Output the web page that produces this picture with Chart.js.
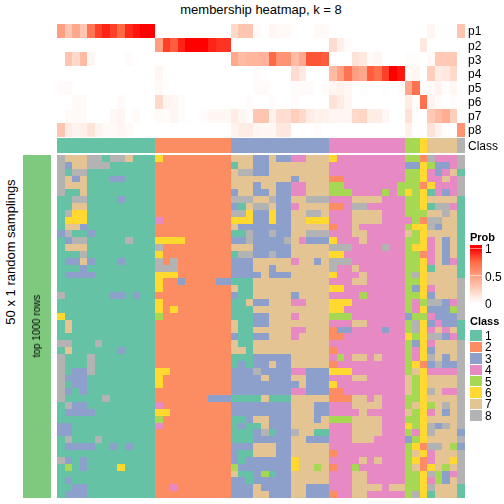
<!DOCTYPE html>
<html>
<head>
<meta charset="utf-8">
<title>membership heatmap</title>
<script src="https://cdn.jsdelivr.net/npm/chart.js@4/dist/chart.umd.min.js"></script>
<style>
    html, body { margin: 0; padding: 0; background: #fff; }
    body { width: 504px; height: 504px; position: relative; overflow: hidden; font-family: "Liberation Sans", sans-serif; color: #000; }
    canvas { position: absolute; display: block; }
    .txt { position: absolute; white-space: nowrap; line-height: 1; }
    .rot { transform: translate(-50%, -50%) rotate(-90deg); }
</style>
</head>
<body>
<canvas id="heatChart" style="left:57px;top:24px" width="447" height="113"></canvas>
<canvas id="classChart" style="left:57px;top:138px" width="447" height="15"></canvas>
<canvas id="mainChart" style="left:57px;top:155px" width="408" height="343"></canvas>
<canvas id="sideChart" style="left:23px;top:155px" width="28" height="343"></canvas>
<canvas id="probChart" style="left:470px;top:240px" width="34" height="70"></canvas>
<canvas id="legendChart" style="left:470px;top:330px" width="34" height="91"></canvas>

<div class="txt" style="left:261px;top:3px;font-size:13px;transform:translateX(-50%)">membership heatmap, k = 8</div>
<div class="txt rot" style="left:10px;top:252px;font-size:13px">50 x 1 random samplings</div>
<div class="txt rot" style="left:37px;top:326px;font-size:10px">top 1000 rows</div>
<div class="txt" style="left:470px;top:232px;font-size:11px;font-weight:bold">Prob</div>
<div class="txt" style="left:470px;top:316px;font-size:11px;font-weight:bold">Class</div>

<script>
/* ============================================================
   Data
   ============================================================ */
const probLabels = ['p1', 'p2', 'p3', 'p4', 'p5', 'p6', 'p7', 'p8'];
const classLabels = ['1', '2', '3', '4', '5', '6', '7', '8'];
const classColors = ['#66C2A5', '#FC8D62', '#8DA0CB', '#E78AC3', '#A6D854', '#FFD92F', '#E5C494', '#B3B3B3'];
const probTicks = [0, 0.5, 1];

// Membership probability (in %) per column, one array per row p1..p8
const p1 = [50,30,45,30,70,85,92,85,75,90,95,100,100, 0,0,0,0,0,0,0,0,0,0, 20,30,30,3,0,5,3,3,0,0,0,3,3, 0,0,0,0,0,0,0,0,0,0, 0,0,0,5,0,0,0,30];
const p2 = [0,0,0,0,0,0,0,0,0,0,0,0,0, 50,85,78,92,100,100,100,92,88,88, 0,0,0,0,0,0,0,0,0,0,0,0,0, 18,8,2,0,0,0,0,0,0,0, 0,0,12,0,0,0,0,0];
const p3 = [0,30,20,35,4,0,0,0,0,2,0,0,0, 0,0,0,0,0,0,0,0,0,0, 45,35,38,38,40,75,55,55,35,45,80,80,78, 0,0,0,15,12,3,5,0,0,0, 1,1,0,3,28,28,28,0];
const p4 = [0,0,0,0,0,0,0,0,0,0,0,0,0, 4,0,0,0,0,0,0,0,0,0, 0,0,0,2,0,0,0,0,18,12,0,0,0, 35,50,70,50,45,78,72,85,100,95, 2,5,0,25,10,12,20,0];
const p5 = [2,2,0,0,0,0,0,0,0,0,0,0,0, 3,0,0,0,0,0,0,0,0,0, 0,0,0,2,3,0,0,0,2,2,2,0,2, 5,7,4,0,1,0,0,1,0,2, 45,72,2,2,6,1,4,0];
const p6 = [0,0,3,3,0,0,0,0,3,0,0,0,0, 20,6,5,2,0,0,0,0,0,0, 0,0,2,0,0,2,0,0,2,0,0,0,0, 15,10,5,0,0,0,0,0,0,0, 10,2,72,6,2,0,2,0];
const p7 = [0,3,3,3,0,0,0,4,5,0,3,0,0, 3,2,5,2,0,0,2,4,4,4, 10,5,2,30,30,7,17,17,25,20,10,7,7, 5,5,5,20,22,10,10,4,0,0, 15,1,0,28,35,42,25,1];
const p8 = [30,10,6,8,14,6,3,3,5,3,0,0,0, 0,0,0,0,0,0,0,0,0,0, 6,10,10,5,4,4,12,12,0,0,0,2,0, 0,0,0,0,0,0,0,0,0,0, 8,0,0,15,6,2,0,55];

// Class of each column (top annotation)
const columnClass = '1111111111111' + '2222222222' + '3333333333333' + '4444444444' + '55' + '6' + '7777' + '8';

// One string per random sampling, one digit (class) per column
const samplings = [
    '8777881887111' + '6222222222' + '7773373344777' + '6444444444' + '55284448',
    '8377888111111' + '2222222222' + '1773377777777' + '4444444444' + '33653348',
    '8188111111111' + '2222222222' + '7883377777777' + '4444444444' + '55643471',
    '8737111331111' + '2222222222' + '7777777737777' + '2244444444' + '55644748',
    '8777111111111' + '2222222222' + '7773773344777' + '5544444445' + '55264448',
    '8117111111111' + '2222222222' + '3773373344777' + '5554444545' + '65614348',
    '1188111131111' + '2222222222' + '8887783377888' + '4447777444' + '55677771',
    '1177111111111' + '2222222222' + '3178873347777' + '2248844444' + '55618841',
    '1866111111111' + '2222222222' + '8863363377887' + '4447777444' + '55577871',
    '1666111111111' + '4222222222' + '6663363377666' + '4447777444' + '45288771',
    '1773111111111' + '2222222222' + '7333333377777' + '2447444444' + '56683771',
    '3811311111111' + '2222222222' + '1183383377888' + '4447744444' + '75677771',
    '1388111118111' + '6666222222' + '3383333874333' + '6444744444' + '55647371',
    '1777111111111' + '8222222222' + '7773333377777' + '8884444844' + '56647371',
    '1118111111111' + '6222222222' + '1883383377777' + '6644444444' + '55247371',
    '1337311131111' + '8282222222' + '3337777747737' + '8884444444' + '55647341',
    '1113111111111' + '8882222222' + '3337737777777' + '8447444444' + '55617771',
    '1333311111111' + '6662222222' + '3333733377777' + '6444744444' + '58677771',
    '1111111111111' + '6223222233' + '1117777777777' + '4447744444' + '55677778',
    '1111111111111' + '6222222222' + '7117777777777' + '6644444444' + '53647778',
    '8111111331311' + '2222222222' + '3117777737777' + '4444544444' + '55637778',
    '1111111111111' + '6222222222' + '1173377744777' + '6664444444' + '54588348',
    '1111111111111' + '6262222222' + '1117777777777' + '6644444444' + '54633358',
    '6111111111111' + '5222222222' + '1113377747777' + '5554444444' + '35543338',
    '1711111111111' + '2222222222' + '7113377777777' + '4447744444' + '58634331',
    '1711111111111' + '2222222222' + '7117777744777' + '2334444344' + '58647471',
    '1111111111111' + '2222222222' + '3113377747777' + '2244444444' + '65688341',
    '8811181111111' + '2222222222' + '7117777777777' + '4444444444' + '53647778',
    '1711111131111' + '2222222222' + '7717777777777' + '2444444444' + '54637778',
    '8111811111111' + '2222222222' + '1113333377777' + '4547747444' + '54687378',
    '8111811111111' + '2222222222' + '1313373377777' + '2444444444' + '56238338',
    '8133811111111' + '6622222222' + '3338333344333' + '6664444444' + '57644448',
    '8333111111111' + '6222222222' + '3333733377333' + '4447744444' + '75677778',
    '8133111111111' + '6222222222' + '3333333337333' + '6444444444' + '75677778',
    '8313111111111' + '2222222222' + '3333333344333' + '2244444444' + '75687448',
    '8111118111111' + '2222222333' + '1111711177777' + '2227747444' + '55677778',
    '1833111111111' + '4222222222' + '3333333377733' + '4447777444' + '57657878',
    '1333311111111' + '6622222222' + '3333333377733' + '4444744444' + '75647378',
    '1111111111111' + '5222222222' + '1137733377737' + '5557777444' + '55677778',
    '3311111111111' + '4222222222' + '1311733377777' + '4447777444' + '65683878',
    '3311111111111' + '2222222222' + '1113813387711' + '4447777444' + '54687773',
    '1811181111111' + '2222222222' + '1113333377333' + '4447774444' + '35677778',
    '1333311313111' + '2222222222' + '3337773377777' + '4444444444' + '56288753',
    '1111111111111' + '2222222222' + '3117773377777' + '2444444444' + '57647778',
    '8313111111111' + '2222222222' + '3133333367777' + '4444747444' + '56247768',
    '1513111161111' + '2222222222' + '5333333367757' + '2445444444' + '57267578',
    '1111111111111' + '2222222222' + '7113513377777' + '4447744444' + '55685348',
    '1311111111111' + '2222222222' + '3313333377777' + '4447744444' + '55645378',
    '1133111111111' + '2242222222' + '3337333377333' + '4447777477' + '55687771',
    '1333111111111' + '2222222222' + '3337733377333' + '2447744444' + '58617771'
];

/* ============================================================
   Helpers
   ============================================================ */
// white -> red ramp, same stops for the cells and the colour bar
const rampStops = [[0, '#FFFFFF'], [0.25, '#FFCFBC'], [0.5, '#FF9E81'], [0.75, '#FF6A45'], [1, '#FF0000']];

function hexToRgb(hex) {
    return [1, 3, 5].map(i => parseInt(hex.slice(i, i + 2), 16));
}

function probColor(p) {
    for (let i = 1; i < rampStops.length; i++) {
        if (p <= rampStops[i][0]) {
            const [p0, c0] = rampStops[i - 1];
            const [p1_, c1] = rampStops[i];
            const t = (p - p0) / (p1_ - p0);
            const a = hexToRgb(c0), b = hexToRgb(c1);
            return `rgb(${a.map((v, k) => Math.round(v + (b[k] - v) * t)).join(',')})`;
        }
    }
    return '#FF0000';
}

// small nudge: row edges can land exactly on .5 and neighbours must round alike
const snap = v => Math.round(v + 0.001);

// Snap the cells to whole pixels so neighbours do not blur into each other
Chart.register({
    id: 'snapCells',
    beforeDatasetsDraw(chart) {
        if (chart.options.indexAxis !== 'y') return;
        chart.getSortedVisibleDatasetMetas().forEach(meta => {
            meta.data.forEach(el => {
                const top = snap(el.y - el.height / 2);
                const bottom = snap(el.y + el.height / 2);
                el.x = snap(el.x);
                el.base = snap(el.base);
                el.y = (top + bottom) / 2;
                el.height = bottom - top;
            });
        });
    }
});

const tickFont = { family: '"Liberation Sans", sans-serif', size: 12 };

// category axes ask for half a label of room above and below, we don't want it
function noAxisPadding(s) {
    s.paddingTop = 0;
    s.paddingBottom = 0;
}

// Grid of cells as a horizontal stacked bar chart, one dataset per column
function drawGrid(id, rowLabels, nCols, colorAt, axisWidth, barPct = 1) {
    const datasets = [];
    for (let c = 0; c < nCols; c++) {
        datasets.push({
            data: rowLabels.map(() => 1),
            backgroundColor: rowLabels.map((_, r) => colorAt(r, c)),
            borderWidth: 0,
            inflateAmount: 0,
            barPercentage: barPct,
            categoryPercentage: 1
        });
    }
    return new Chart(document.getElementById(id), {
        type: 'bar',
        data: { labels: rowLabels, datasets },
        options: {
            indexAxis: 'y',
            responsive: false,
            animation: false,
            layout: { padding: 0 },
            plugins: { legend: { display: false }, tooltip: { enabled: false } },
            scales: {
                x: { stacked: true, min: 0, max: nCols, display: false },
                y: {
                    stacked: true,
                    position: 'right',
                    display: axisWidth > 0,
                    afterFit: s => { s.width = axisWidth; noAxisPadding(s); },
                    border: { display: false },
                    grid: { display: false, drawTicks: false },
                    ticks: { color: '#000', font: tickFont, padding: 3, labelOffset: 1, autoSkip: false }
                }
            }
        }
    });
}

/* ============================================================
   Heatmap blocks
   ============================================================ */
const probRows = [p1, p2, p3, p4, p5, p6, p7, p8];
const nCols = columnClass.length;

drawGrid('heatChart', probLabels, nCols, (r, c) => probColor(probRows[r][c] / 100), 39);
drawGrid('classChart', ['Class'], nCols, (r, c) => classColors[+columnClass[c] - 1], 39);
drawGrid('mainChart', samplings.map((_, i) => i + 1), nCols, (r, c) => classColors[+samplings[r][c] - 1], 0);
drawGrid('sideChart', ['top 1000 rows'], 1, () => '#7FC97F', 0);
drawGrid('legendChart', classLabels, 1, r => classColors[r], 22, 0.93);

/* ============================================================
   Colour bar: a single bar on a linear axis, filled with the ramp
   ============================================================ */
new Chart(document.getElementById('probChart'), {
    type: 'bar',
    data: {
        labels: ['Prob'],
        datasets: [{
            data: [1.055],
            backgroundColor: ctx => {
                const area = ctx.chart.chartArea;
                if (!area) return '#FF0000';
                const y = ctx.chart.scales.y;
                const g = ctx.chart.ctx.createLinearGradient(0, y.getPixelForValue(0), 0, y.getPixelForValue(1));
                rampStops.forEach(([p, col]) => g.addColorStop(p, col));
                return g;
            },
            borderWidth: 0,
            barPercentage: 1,
            categoryPercentage: 1
        }]
    },
    options: {
        responsive: false,
        animation: false,
        layout: { padding: { top: 5, bottom: 7 } },
        plugins: { legend: { display: false }, tooltip: { enabled: false } },
        scales: {
            x: { display: false },
            y: {
                position: 'right',
                min: 0,
                max: 1.055,
                afterFit: s => { s.width = 22; noAxisPadding(s); },
                afterBuildTicks: s => { s.ticks = probTicks.map(v => ({ value: v })); },
                border: { display: false },
                grid: { color: 'rgba(255,255,255,0.5)', z: 1, drawTicks: false },
                ticks: { color: '#000', font: tickFont, padding: 3, labelOffset: 2, callback: v => String(v) }
            }
        }
    }
});
</script>
</body>
</html>
